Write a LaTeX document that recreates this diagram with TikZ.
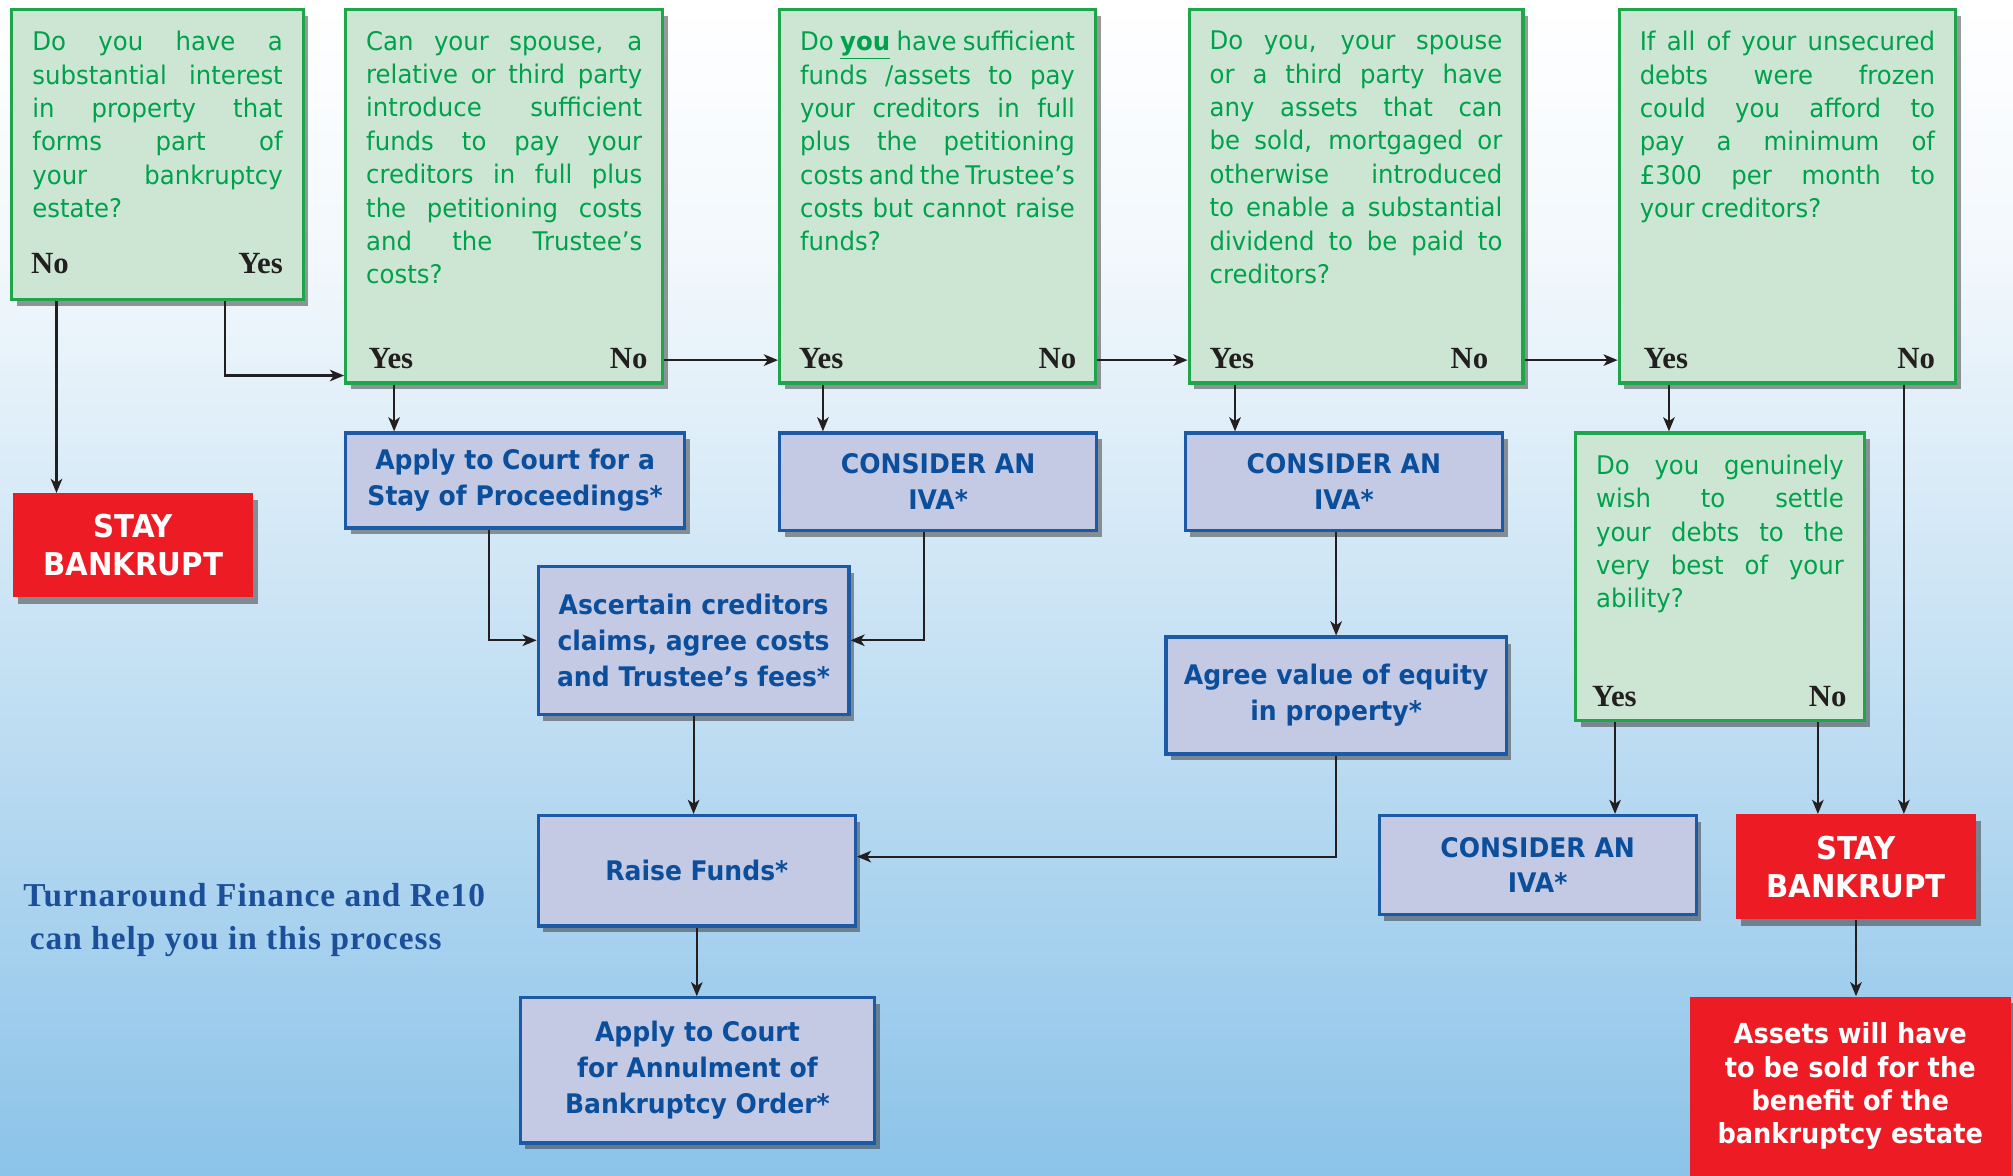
\documentclass[tikz,border=0pt]{standalone}
\usepackage{fontspec}
\setmainfont{DejaVu Sans}
\newfontfamily\qfont[FakeStretch=0.95]{DejaVu Sans}
\newfontfamily\afont[FakeStretch=0.93]{DejaVu Sans}
\newfontfamily\ynfont{Liberation Serif}
\newfontfamily\notefont[LetterSpace=3]{Liberation Serif}
\usetikzlibrary{shadows,arrows.meta}

\definecolor{qfill}{HTML}{CDE6D4}
\definecolor{qline}{HTML}{1DA64A}
\definecolor{qtext}{HTML}{00A14B}
\definecolor{afill}{HTML}{C5CAE4}
\definecolor{aline}{HTML}{1C5AA6}
\definecolor{atext}{HTML}{0B4F9C}
\definecolor{stopred}{HTML}{ED1C24}
\definecolor{arrowcol}{HTML}{231F20}
\definecolor{notecol}{HTML}{1B4F99}
\definecolor{bgtop}{HTML}{FFFFFF}
\definecolor{bgmid}{HTML}{F2F8FC}
\definecolor{bgbot}{HTML}{8CC3E9}
\pgfdeclareverticalshading{bgfade}{100bp}{color(0bp)=(bgbot); color(25bp)=(bgbot); color(64bp)=(bgmid); color(75bp)=(bgtop); color(100bp)=(bgtop)}

\newcommand\qtext[3]{\parbox[c][#2][t]{#1}{\qfont\fontsize{20}{26}\selectfont
  \spaceskip=0.25em plus 0.6em minus 0.15em\vspace*{17pt}#3}}

\tikzset{
  boxshadow/.style={drop shadow={shadow xshift=4pt,shadow yshift=-5pt,opacity=0.5,fill=black!80}},
  qbox/.style={draw=qline,fill=qfill,line width=2.5pt,anchor=north west,inner xsep=16pt,inner ysep=0pt,text=qtext,boxshadow},
  abox/.style={draw=aline,fill=afill,line width=2.5pt,anchor=north west,inner sep=0pt,align=center,text=atext,
    font=\afont\bfseries\fontsize{21}{28}\selectfont,boxshadow},
  stopbox/.style={fill=stopred,anchor=north west,inner sep=0pt,align=center,text=white,boxshadow},
  yn/.style={inner sep=0pt,text=arrowcol,font=\ynfont\bfseries\fontsize{24}{26}\selectfont},
  notetext/.style={inner sep=0pt,align=left,text=notecol,font=\notefont\bfseries\fontsize{26}{33}\selectfont},
  arr/.style={-{Stealth[length=11pt,width=9pt,inset=3pt]},line width=1.6pt,draw=arrowcol}
}

\begin{document}
\begin{tikzpicture}[x=1pt,y=1pt]
\useasboundingbox (0,0) rectangle (1568,-916);
\shade[shading=bgfade] (0,0) rectangle (1568,-916);

\node[qbox] (q1) at (8,-6) {\qtext{195pt}{226pt}{Do you have a\linebreak substantial interest\linebreak in property that\linebreak forms part of\linebreak your bankruptcy\linebreak estate?}};
\node[qbox] (q2) at (268,-6) {\qtext{215pt}{291pt}{Can your spouse, a\linebreak relative or third party\linebreak introduce sufficient\linebreak funds to pay your\linebreak creditors in full plus\linebreak the petitioning costs\linebreak and the Trustee’s\linebreak costs?}};
\node[qbox] (q3) at (606,-6) {\qtext{214pt}{291pt}{Do \underline{\textbf{you}} have sufficient\linebreak funds /assets to pay\linebreak your creditors in full\linebreak plus the petitioning\linebreak costs and the Trustee’s\linebreak costs but cannot raise\linebreak funds?}};
\node[qbox] (q4) at (925,-6) {\qtext{228pt}{291pt}{Do you, your spouse\linebreak or a third party have\linebreak any assets that can\linebreak be sold, mortgaged or\linebreak otherwise introduced\linebreak to enable a substantial\linebreak dividend to be paid to\linebreak creditors?}};
\node[qbox] (q5) at (1260,-6) {\qtext{230pt}{291pt}{If all of your unsecured\linebreak debts were frozen\linebreak could you afford to\linebreak pay a minimum of\linebreak £300 per month to\linebreak your creditors?}};
\node[qbox] (q6) at (1226,-336) {\qtext{193pt}{224pt}{Do you genuinely\linebreak wish to settle\linebreak your debts to the\linebreak very best of your\linebreak ability?}};

\node[yn,anchor=west] (q1no) at ([shift={(16,29)}]q1.south west) {No};
\node[yn,anchor=east] (q1yes) at ([shift={(-17,29)}]q1.south east) {Yes};
\node[yn,anchor=west] (q2yes) at ([shift={(19,20)}]q2.south west) {Yes};
\node[yn,anchor=east] (q2no) at ([shift={(-13,20)}]q2.south east) {No};
\node[yn,anchor=west] (q3yes) at ([shift={(16,20)}]q3.south west) {Yes};
\node[yn,anchor=east] (q3no) at ([shift={(-16,20)}]q3.south east) {No};
\node[yn,anchor=west] (q4yes) at ([shift={(17,20)}]q4.south west) {Yes};
\node[yn,anchor=east] (q4no) at ([shift={(-28,20)}]q4.south east) {No};
\node[yn,anchor=west] (q5yes) at ([shift={(20,20)}]q5.south west) {Yes};
\node[yn,anchor=east] (q5no) at ([shift={(-17,20)}]q5.south east) {No};
\node[yn,anchor=west] (q6yes) at ([shift={(14,20)}]q6.south west) {Yes};
\node[yn,anchor=east] (q6no) at ([shift={(-15,20)}]q6.south east) {No};

\node[abox,minimum width=264,minimum height=74] (stay) at (268,-336) {Apply to Court for a\\Stay of Proceedings*};
\node[abox,minimum width=247,minimum height=76] (iva1) at (606,-336) {CONSIDER AN\\IVA*};
\node[abox,minimum width=247,minimum height=76] (iva2) at (922,-336) {CONSIDER AN\\IVA*};
\node[abox,minimum width=242,minimum height=115] (claims) at (418,-440) {Ascertain creditors\\claims, agree costs\\and Trustee’s fees*};
\node[abox,minimum width=265,minimum height=91] (equity) at (907,-495) {Agree value of equity\\in property*};
\node[abox,minimum width=247,minimum height=86] (funds) at (418,-634) {Raise Funds*};
\node[abox,minimum width=247,minimum height=77] (iva3) at (1073,-634) {CONSIDER AN\\IVA*};
\node[abox,minimum width=276,minimum height=113] (annul) at (404,-776) {Apply to Court\\for Annulment of\\Bankruptcy Order*};

\node[stopbox,minimum width=187,minimum height=81,font=\afont\bfseries\fontsize{24.5}{30}\selectfont] (bust1) at (10,-384) {STAY\\BANKRUPT};
\node[stopbox,minimum width=187,minimum height=82,font=\afont\bfseries\fontsize{24.5}{30}\selectfont] (bust2) at (1352,-634) {STAY\\BANKRUPT};
\node[stopbox,minimum width=250,minimum height=140,font=\afont\bfseries\fontsize{21.5}{26}\selectfont] (sold) at (1316,-776) {Assets will have\\to be sold for the\\benefit of the\\bankruptcy estate};

\node[notetext,anchor=north west] (note) at (18,-688) {Turnaround Finance and Re10\\\hspace{5pt}can help you in this process};

\draw[arr] ([xshift=36pt]q1.south west) -- ([xshift=36pt]q1.south west |- bust1.north);
\draw[arr] ([xshift=167pt]q1.south west) |- ([yshift=7pt]q2.south west);
\draw[arr] ([xshift=39pt]q2.south west) -- ([xshift=39pt]q2.south west |- stay.north);
\draw[arr] ([yshift=19pt]q2.south east) -- ([yshift=19pt]q3.south west);
\draw[arr] ([xshift=35pt]q3.south west) -- ([xshift=35pt]q3.south west |- iva1.north);
\draw[arr] ([yshift=19pt]q3.south east) -- ([yshift=19pt]q4.south west);
\draw[arr] ([xshift=37pt]q4.south west) -- ([xshift=37pt]q4.south west |- iva2.north);
\draw[arr] ([yshift=19pt]q4.south east) -- ([yshift=19pt]q5.south west);
\draw[arr] ([xshift=40pt]q5.south west) -- ([xshift=40pt]q5.south west |- q6.north);
\draw[arr] ([xshift=223pt]q5.south west) -- ([xshift=223pt]q5.south west |- bust2.north);
\draw[arr] ([xshift=113pt]stay.south west) |- (claims.west);
\draw[arr] ([xshift=114pt]iva1.south west) |- (claims.east);
\draw[arr] (claims.south) -- (claims.south |- funds.north);
\draw[arr] (iva2.south -| equity.north) -- (equity.north);
\draw[arr] (equity.south) |- ([yshift=11pt]funds.east);
\draw[arr] (funds.south) -- (funds.south |- annul.north);
\draw[arr] ([xshift=32pt]q6.south west) -- ([xshift=32pt]q6.south west |- iva3.north);
\draw[arr] ([xshift=190pt]q6.south west) -- ([xshift=190pt]q6.south west |- bust2.north);
\draw[arr] (bust2.south) -- (bust2.south |- sold.north);
\end{tikzpicture}
\end{document}
